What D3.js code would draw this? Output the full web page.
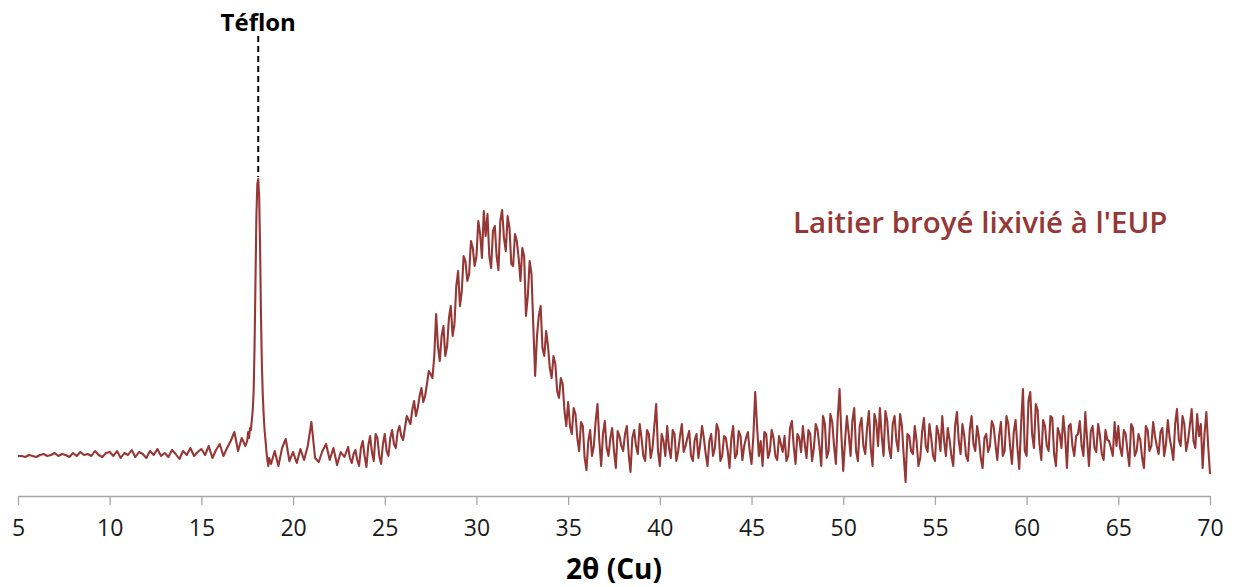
<!DOCTYPE html>
<html>
<head>
<meta charset="utf-8">
<script src="https://cdn.jsdelivr.net/npm/d3@7"></script>
<style>
  html, body { margin: 0; padding: 0; background: #ffffff; }
  svg { display: block; }
</style>
</head>
<body>
<svg id="chart" width="1235" height="587"></svg>
<script>
// ---- Data ----
const scanStart = 5.0;      // 2θ of first point
const scanStep = 0.2;       // 2θ step of the coarse scan
const intensity = [
  40,40,39,41,40,39,41,42,40,41,43,40,42,41,39,43,40,44,41,42,40,45,41,39,43,
  44,40,45,38,43,41,46,39,44,42,38,45,41,47,40,43,39,46,42,37,45,41,48,40,44,
  47,41,50,38,46,52,40,48,55,64,45,58,50,62,90,280,250,80,35,32,45,30,48,57,35,
  44,33,47,36,50,74,38,34,45,52,36,48,31,44,39,49,33,46,30,55,29,60,35,58,32,
  62,40,66,48,70,56,80,72,95,88,108,100,125,118,182,135,170,150,190,172,225,205,235,222,248,
  240,262,285,282,228,270,226,286,245,268,230,255,215,240,200,222,120,180,148,165,128,140,105,118,85,
  94,62,82,45,70,26,66,50,92,30,75,40,68,28,60,45,70,24,66,42,58,35,62,48,92,
  30,55,70,38,62,45,72,50,65,35,62,52,58,30,62,48,66,40,58,28,70,42,60,50,64,
  32,104,40,30,62,45,58,36,52,60,40,75,32,58,70,38,62,48,66,30,72,45,74,32,107,
  25,80,40,88,35,78,42,85,30,74,88,40,75,38,80,45,70,14,60,42,55,38,78,44,58,
  35,62,80,40,56,30,84,42,60,35,80,45,58,28,62,50,70,36,74,45,72,32,76,27,107,
  40,104,48,86,36,70,45,78,30,62,80,28,72,40,62,50,84,30,70,44,60,36,56,48,74,
  70,40,62,30,68,45,56,28,66,50,60,42,68,52,58,36,87,50,72,55,87,48,60,28,84,22
];
// in-between points (23.1, 23.3 ... 69.9) where the scan is noisiest
const midStart = 23.1;
const midIntensity = [
  38,42,36,48,40,50,44,62,40,52,
  45,58,52,64,60,68,76,86,80,100,94,112,122,140,150,160,140,178,160,210,190,240,215,255,230,
  275,238,260,240,265,240,275,258,280,232,262,238,248,180,235,170,160,190,140,150,118,132,98,112,70,
  70,88,58,74,38,55,40,75,55,62,48,58,45,65,50,62,42,58,50,72,40,66,38,70,45,
  62,40,48,66,35,60,44,58,40,56,38,70,42,55,40,72,35,60,45,58,38,65,36,58,45,
  60,70,55,64,38,66,40,60,44,35,68,50,62,44,52,66,35,72,50,80,38,82,50,78,60,
  55,62,75,45,70,50,68,48,82,50,60,85,48,72,55,82,40,62,45,70,30,64,50,72,40,
  70,45,55,68,40,70,55,72,40,66,52,70,38,58,44,75,52,60,40,80,50,64,48,72,45,
  95,62,92,52,76,50,80,42,68,48,60,70,50,60,75,40,56,65,48,72,42,66,55,40,50,
  48,66,45,72,40,62,38,70,45,74,50,64,40,76,48,72,56,80,45,70,55,82,72,62,50
];
// finer points across the Téflon reflection
const teflonAngles = [17.5,17.55,17.6,17.65,17.7,17.75,17.8,17.85,17.9,17.95,18.0,18.05,18.1,18.15,18.2,18.25,18.3,18.35,18.4,18.45,18.5,18.55,18.6,18.65,18.7];
const teflonCounts = [55,64,58,68,66,76,86,105,150,215,280,312,317,300,250,180,130,100,80,65,55,44,36,30,38];
const teflonPeak = 18.1;
const xTicks = [5,10,15,20,25,30,35,40,45,50,55,60,65,70];
const xTitle = "2θ (Cu)";
const peakLabel = "Téflon";
const seriesLabel = "Laitier broyé lixivié à l'EUP";

// ---- Build the series ----
let pts = intensity.map((v, i) => ({ x: +(scanStart + i * scanStep).toFixed(2), y: v }))
  .filter(p => p.x < teflonAngles[0] || p.x > teflonAngles[teflonAngles.length - 1]);
midIntensity.forEach((v, i) => pts.push({ x: +(midStart + i * scanStep).toFixed(2), y: v }));
teflonAngles.forEach((a, i) => pts.push({ x: a, y: teflonCounts[i] }));
pts.sort((a, b) => a.x - b.x);

// ---- Scales ----
const svg = d3.select("#chart");
const x = d3.scaleLinear().domain([5, 70]).range([18, 1210]);
const y = d3.scaleLinear().domain([0, 470]).range([496, 26]);

const red = "#953735";
const font = "'Open Sans', 'DejaVu Sans', sans-serif";

// ---- Axis ----
const axis = d3.axisBottom(x).tickValues(xTicks).tickSizeInner(9).tickSizeOuter(0).tickPadding(15)
  .tickFormat(d3.format("d"));
const gx = svg.append("g").attr("transform", "translate(0,496)").call(axis);
gx.select(".domain").attr("stroke", "#a6a6a6").attr("stroke-width", 1.3);
gx.selectAll(".tick line").attr("stroke", "#a6a6a6").attr("stroke-width", 1.3);
gx.selectAll(".tick text").attr("fill", "#1a1a1a").style("font-family", font).style("font-size", "23px");

svg.append("text")
  .attr("x", (x(5) + x(70)) / 2).attr("y", 579)
  .attr("text-anchor", "middle")
  .style("font-family", font).style("font-weight", "bold").style("font-size", "28px")
  .attr("fill", "#000").text(xTitle);

// ---- Series line ----
const line = d3.line().x(d => x(d.x)).y(d => y(d.y));
svg.append("path").datum(pts)
  .attr("fill", "none").attr("stroke", red).attr("stroke-width", 2.1)
  .attr("stroke-linejoin", "round").attr("d", line);

// ---- Téflon marker ----
svg.append("line")
  .attr("x1", x(teflonPeak)).attr("x2", x(teflonPeak))
  .attr("y1", 36).attr("y2", y(d3.max(teflonCounts)) - 2)
  .attr("stroke", "#000").attr("stroke-width", 2).attr("stroke-dasharray", "6,4");
svg.append("text")
  .attr("x", x(teflonPeak)).attr("y", 31).attr("text-anchor", "middle")
  .style("font-family", font).style("font-weight", "bold").style("font-size", "24px")
  .attr("fill", "#000").text(peakLabel);

// ---- Series label ----
svg.append("text")
  .attr("x", 793).attr("y", 233)
  .style("font-family", font).style("font-weight", "600").style("font-size", "29.5px")
  .attr("fill", red).text(seriesLabel);
</script>
</body>
</html>
